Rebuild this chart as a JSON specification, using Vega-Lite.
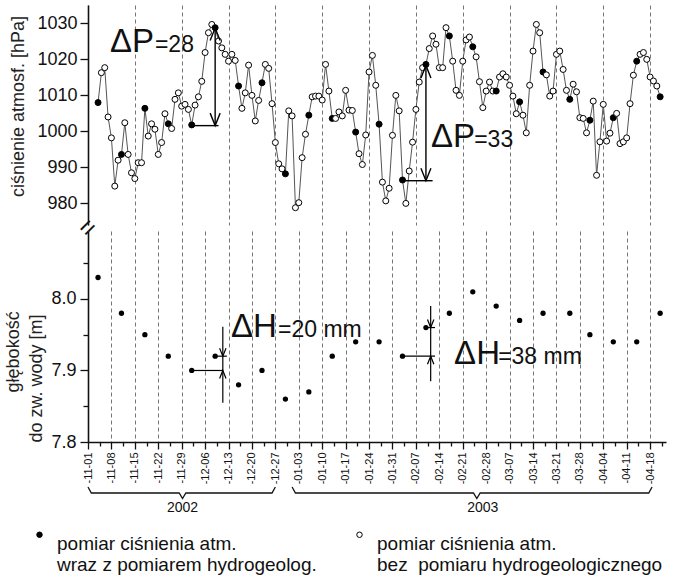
{
  "$schema": "https://vega.github.io/schema/vega-lite/v6.json",
  "config": {
    "font": "Liberation Sans",
    "view": {"stroke": null},
    "axis": {"domainColor": "#111", "domainWidth": 1.6, "tickColor": "#111", "tickWidth": 1.3, "labelColor": "#111", "labelFontSize": 18, "labelFont": "Liberation Sans", "titleColor": "#222", "titleFontSize": 18, "titleFontWeight": "normal", "titleFont": "Liberation Sans"}
  },
  "datasets": {
    "cisnienie": [
      {"dzien":"2002-11-04","p":1007.9,"typ":"z"},{"dzien":"2002-11-05","p":1016.2,"typ":"bez"},{"dzien":"2002-11-06","p":1017.6,"typ":"bez"},{"dzien":"2002-11-07","p":1003.9,"typ":"bez"},{"dzien":"2002-11-08","p":998.1,"typ":"bez"},{"dzien":"2002-11-09","p":984.7,"typ":"bez"},{"dzien":"2002-11-10","p":991.9,"typ":"bez"},
      {"dzien":"2002-11-11","p":993.5,"typ":"z"},{"dzien":"2002-11-12","p":1002.3,"typ":"bez"},{"dzien":"2002-11-13","p":993.5,"typ":"bez"},{"dzien":"2002-11-14","p":988.4,"typ":"bez"},{"dzien":"2002-11-15","p":986.8,"typ":"bez"},{"dzien":"2002-11-16","p":991.2,"typ":"bez"},{"dzien":"2002-11-17","p":991.2,"typ":"bez"},
      {"dzien":"2002-11-18","p":1006.3,"typ":"z"},{"dzien":"2002-11-19","p":998.6,"typ":"bez"},{"dzien":"2002-11-20","p":1002.0,"typ":"bez"},{"dzien":"2002-11-21","p":1000.5,"typ":"bez"},{"dzien":"2002-11-22","p":993.5,"typ":"bez"},{"dzien":"2002-11-23","p":996.8,"typ":"bez"},{"dzien":"2002-11-24","p":1004.8,"typ":"bez"},
      {"dzien":"2002-11-25","p":1002.0,"typ":"z"},{"dzien":"2002-11-26","p":1000.7,"typ":"bez"},{"dzien":"2002-11-27","p":1008.8,"typ":"bez"},{"dzien":"2002-11-28","p":1010.6,"typ":"bez"},{"dzien":"2002-11-29","p":1006.9,"typ":"bez"},{"dzien":"2002-11-30","p":1007.4,"typ":"bez"},{"dzien":"2002-12-01","p":1006.0,"typ":"bez"},
      {"dzien":"2002-12-02","p":1001.7,"typ":"z"},{"dzien":"2002-12-03","p":1007.2,"typ":"bez"},{"dzien":"2002-12-04","p":1009.5,"typ":"bez"},{"dzien":"2002-12-05","p":1013.8,"typ":"bez"},{"dzien":"2002-12-06","p":1021.8,"typ":"bez"},{"dzien":"2002-12-07","p":1027.3,"typ":"bez"},{"dzien":"2002-12-08","p":1029.6,"typ":"bez"},
      {"dzien":"2002-12-09","p":1028.7,"typ":"z"},{"dzien":"2002-12-10","p":1025.0,"typ":"bez"},{"dzien":"2002-12-11","p":1023.1,"typ":"bez"},{"dzien":"2002-12-12","p":1021.3,"typ":"bez"},{"dzien":"2002-12-13","p":1019.4,"typ":"bez"},{"dzien":"2002-12-14","p":1021.3,"typ":"bez"},{"dzien":"2002-12-15","p":1019.6,"typ":"bez"},
      {"dzien":"2002-12-16","p":1012.5,"typ":"z"},{"dzien":"2002-12-17","p":1006.3,"typ":"bez"},{"dzien":"2002-12-18","p":1010.6,"typ":"bez"},{"dzien":"2002-12-19","p":1018.3,"typ":"bez"},{"dzien":"2002-12-20","p":1009.9,"typ":"bez"},{"dzien":"2002-12-21","p":1002.8,"typ":"bez"},{"dzien":"2002-12-22","p":1008.5,"typ":"bez"},
      {"dzien":"2002-12-23","p":1013.4,"typ":"z"},{"dzien":"2002-12-24","p":1018.5,"typ":"bez"},{"dzien":"2002-12-25","p":1017.4,"typ":"bez"},{"dzien":"2002-12-26","p":1007.6,"typ":"bez"},{"dzien":"2002-12-27","p":996.8,"typ":"bez"},{"dzien":"2002-12-28","p":990.9,"typ":"bez"},{"dzien":"2002-12-29","p":989.5,"typ":"bez"},
      {"dzien":"2002-12-30","p":988.1,"typ":"z"},{"dzien":"2002-12-31","p":1005.6,"typ":"bez"},{"dzien":"2003-01-01","p":1004.2,"typ":"bez"},{"dzien":"2003-01-02","p":978.7,"typ":"bez"},{"dzien":"2003-01-03","p":980.1,"typ":"bez"},{"dzien":"2003-01-04","p":992.6,"typ":"bez"},{"dzien":"2003-01-05","p":999.1,"typ":"bez"},
      {"dzien":"2003-01-06","p":1004.4,"typ":"z"},{"dzien":"2003-01-07","p":1009.5,"typ":"bez"},{"dzien":"2003-01-08","p":1009.7,"typ":"bez"},{"dzien":"2003-01-09","p":1009.7,"typ":"bez"},{"dzien":"2003-01-10","p":1008.6,"typ":"bez"},{"dzien":"2003-01-11","p":1018.5,"typ":"bez"},{"dzien":"2003-01-12","p":1011.1,"typ":"bez"},
      {"dzien":"2003-01-13","p":1003.5,"typ":"z"},{"dzien":"2003-01-14","p":1003.5,"typ":"bez"},{"dzien":"2003-01-15","p":1005.3,"typ":"bez"},{"dzien":"2003-01-16","p":1004.2,"typ":"bez"},{"dzien":"2003-01-17","p":1011.3,"typ":"bez"},{"dzien":"2003-01-18","p":1005.8,"typ":"bez"},{"dzien":"2003-01-19","p":1005.7,"typ":"bez"},
      {"dzien":"2003-01-20","p":999.7,"typ":"z"},{"dzien":"2003-01-21","p":993.7,"typ":"bez"},{"dzien":"2003-01-22","p":990.7,"typ":"bez"},{"dzien":"2003-01-23","p":998.9,"typ":"bez"},{"dzien":"2003-01-24","p":1016.4,"typ":"bez"},{"dzien":"2003-01-25","p":1021.0,"typ":"bez"},{"dzien":"2003-01-26","p":1012.7,"typ":"bez"},
      {"dzien":"2003-01-27","p":1001.9,"typ":"z"},{"dzien":"2003-01-28","p":985.8,"typ":"bez"},{"dzien":"2003-01-29","p":980.6,"typ":"bez"},{"dzien":"2003-01-30","p":984.1,"typ":"bez"},{"dzien":"2003-01-31","p":998.8,"typ":"bez"},{"dzien":"2003-02-01","p":1009.9,"typ":"bez"},{"dzien":"2003-02-02","p":1005.6,"typ":"bez"},
      {"dzien":"2003-02-03","p":986.4,"typ":"z"},{"dzien":"2003-02-04","p":979.9,"typ":"bez"},{"dzien":"2003-02-05","p":988.9,"typ":"bez"},{"dzien":"2003-02-06","p":996.9,"typ":"bez"},{"dzien":"2003-02-07","p":1006.0,"typ":"bez"},{"dzien":"2003-02-08","p":1013.6,"typ":"bez"},{"dzien":"2003-02-09","p":1017.6,"typ":"bez"},
      {"dzien":"2003-02-10","p":1018.5,"typ":"z"},{"dzien":"2003-02-11","p":1022.9,"typ":"bez"},{"dzien":"2003-02-12","p":1026.4,"typ":"bez"},{"dzien":"2003-02-13","p":1024.1,"typ":"bez"},{"dzien":"2003-02-14","p":1017.6,"typ":"bez"},{"dzien":"2003-02-15","p":1017.6,"typ":"bez"},{"dzien":"2003-02-16","p":1028.7,"typ":"bez"},
      {"dzien":"2003-02-17","p":1026.4,"typ":"z"},{"dzien":"2003-02-18","p":1019.4,"typ":"bez"},{"dzien":"2003-02-19","p":1011.3,"typ":"bez"},{"dzien":"2003-02-20","p":1009.9,"typ":"bez"},{"dzien":"2003-02-21","p":1019.4,"typ":"bez"},{"dzien":"2003-02-22","p":1025.3,"typ":"bez"},{"dzien":"2003-02-23","p":1026.1,"typ":"bez"},
      {"dzien":"2003-02-24","p":1023.4,"typ":"z"},{"dzien":"2003-02-25","p":1020.6,"typ":"bez"},{"dzien":"2003-02-26","p":1013.7,"typ":"bez"},{"dzien":"2003-02-27","p":1006.5,"typ":"bez"},{"dzien":"2003-02-28","p":1011.1,"typ":"bez"},{"dzien":"2003-03-01","p":1013.6,"typ":"bez"},{"dzien":"2003-03-02","p":1011.1,"typ":"bez"},
      {"dzien":"2003-03-03","p":1011.1,"typ":"z"},{"dzien":"2003-03-04","p":1015.0,"typ":"bez"},{"dzien":"2003-03-05","p":1015.9,"typ":"bez"},{"dzien":"2003-03-06","p":1015.0,"typ":"bez"},{"dzien":"2003-03-07","p":1012.7,"typ":"bez"},{"dzien":"2003-03-08","p":1009.7,"typ":"bez"},{"dzien":"2003-03-09","p":1004.8,"typ":"bez"},
      {"dzien":"2003-03-10","p":1008.1,"typ":"z"},{"dzien":"2003-03-11","p":1004.4,"typ":"bez"},{"dzien":"2003-03-12","p":999.5,"typ":"bez"},{"dzien":"2003-03-13","p":1012.7,"typ":"bez"},{"dzien":"2003-03-14","p":1022.2,"typ":"bez"},{"dzien":"2003-03-15","p":1029.6,"typ":"bez"},{"dzien":"2003-03-16","p":1027.3,"typ":"bez"},
      {"dzien":"2003-03-17","p":1016.4,"typ":"z"},{"dzien":"2003-03-18","p":1015.6,"typ":"bez"},{"dzien":"2003-03-19","p":1009.7,"typ":"bez"},{"dzien":"2003-03-20","p":1011.1,"typ":"bez"},{"dzien":"2003-03-21","p":1021.3,"typ":"bez"},{"dzien":"2003-03-22","p":1022.2,"typ":"bez"},{"dzien":"2003-03-23","p":1017.1,"typ":"bez"},
      {"dzien":"2003-03-24","p":1011.3,"typ":"bez"},{"dzien":"2003-03-25","p":1008.8,"typ":"z"},{"dzien":"2003-03-26","p":1013.0,"typ":"bez"},{"dzien":"2003-03-27","p":1010.9,"typ":"bez"},{"dzien":"2003-03-28","p":1003.7,"typ":"bez"},{"dzien":"2003-03-29","p":1003.5,"typ":"bez"},{"dzien":"2003-03-30","p":999.5,"typ":"bez"},
      {"dzien":"2003-03-31","p":1003.0,"typ":"z"},{"dzien":"2003-04-01","p":1008.3,"typ":"bez"},{"dzien":"2003-04-02","p":987.7,"typ":"bez"},{"dzien":"2003-04-03","p":997.0,"typ":"bez"},{"dzien":"2003-04-04","p":1007.4,"typ":"bez"},{"dzien":"2003-04-05","p":997.2,"typ":"bez"},{"dzien":"2003-04-06","p":999.4,"typ":"bez"},
      {"dzien":"2003-04-07","p":1003.7,"typ":"z"},{"dzien":"2003-04-08","p":1004.9,"typ":"bez"},{"dzien":"2003-04-09","p":996.5,"typ":"bez"},{"dzien":"2003-04-10","p":997.0,"typ":"bez"},{"dzien":"2003-04-11","p":998.1,"typ":"bez"},{"dzien":"2003-04-12","p":1007.6,"typ":"bez"},{"dzien":"2003-04-13","p":1015.5,"typ":"bez"},
      {"dzien":"2003-04-14","p":1019.4,"typ":"z"},{"dzien":"2003-04-15","p":1021.3,"typ":"bez"},{"dzien":"2003-04-16","p":1021.8,"typ":"bez"},{"dzien":"2003-04-17","p":1019.9,"typ":"bez"},{"dzien":"2003-04-18","p":1015.0,"typ":"bez"},{"dzien":"2003-04-19","p":1013.9,"typ":"bez"},{"dzien":"2003-04-20","p":1012.5,"typ":"bez"},
      {"dzien":"2003-04-21","p":1009.5,"typ":"z"}
    ],
    "glebokosc": [
      {"dzien":"2002-11-04","h":8.03},{"dzien":"2002-11-11","h":7.98},{"dzien":"2002-11-18","h":7.95},{"dzien":"2002-11-25","h":7.92},{"dzien":"2002-12-02","h":7.90},{"dzien":"2002-12-09","h":7.92},{"dzien":"2002-12-16","h":7.88},{"dzien":"2002-12-23","h":7.90},{"dzien":"2002-12-30","h":7.86},{"dzien":"2003-01-06","h":7.87},{"dzien":"2003-01-13","h":7.92},{"dzien":"2003-01-20","h":7.94},{"dzien":"2003-01-27","h":7.94},{"dzien":"2003-02-03","h":7.92},{"dzien":"2003-02-10","h":7.96},{"dzien":"2003-02-17","h":7.98},{"dzien":"2003-02-24","h":8.01},{"dzien":"2003-03-03","h":7.99},{"dzien":"2003-03-10","h":7.97},{"dzien":"2003-03-17","h":7.98},{"dzien":"2003-03-25","h":7.98},{"dzien":"2003-03-31","h":7.95},{"dzien":"2003-04-07","h":7.94},{"dzien":"2003-04-14","h":7.94},{"dzien":"2003-04-21","h":7.98}
    ],
    "odcinki": [
      {"panel":"p","d1":"2002-12-09T00:00:00Z","d2":"2002-12-09T00:00:00Z","v1":1001.5,"v2":1028.6},
      {"panel":"p","d1":"2002-12-02T00:00:00Z","d2":"2002-12-10T00:00:00Z","v1":1001.5,"v2":1001.5},
      {"panel":"p","d1":"2003-02-10T00:00:00Z","d2":"2003-02-10T00:00:00Z","v1":986.2,"v2":1018.2},
      {"panel":"p","d1":"2003-02-03T00:00:00Z","d2":"2003-02-12T00:00:00Z","v1":986.2,"v2":986.2},
      {"panel":"h","d1":"2002-12-11T07:00:00Z","d2":"2002-12-11T07:00:00Z","v1":7.855,"v2":7.961},
      {"panel":"h","d1":"2002-12-02T00:00:00Z","d2":"2002-12-11T07:00:00Z","v1":7.90,"v2":7.90},
      {"panel":"h","d1":"2002-12-09T00:00:00Z","d2":"2002-12-12T12:00:00Z","v1":7.92,"v2":7.92},
      {"panel":"h","d1":"2003-02-11T10:00:00Z","d2":"2003-02-11T10:00:00Z","v1":7.885,"v2":7.99},
      {"panel":"h","d1":"2003-02-03T00:00:00Z","d2":"2003-02-12T17:00:00Z","v1":7.92,"v2":7.92},
      {"panel":"h","d1":"2003-02-10T00:00:00Z","d2":"2003-02-12T17:00:00Z","v1":7.96,"v2":7.96}
    ],
    "groty": [
      {"panel":"p","d":"2002-12-09T00:00:00Z","v":1028.6,"kier":"gora"},
      {"panel":"p","d":"2002-12-09T00:00:00Z","v":1001.5,"kier":"dol"},
      {"panel":"p","d":"2003-02-10T00:00:00Z","v":1018.2,"kier":"gora"},
      {"panel":"p","d":"2003-02-10T00:00:00Z","v":986.2,"kier":"dol"},
      {"panel":"h","d":"2002-12-11T07:00:00Z","v":7.92,"kier":"dol"},
      {"panel":"h","d":"2002-12-11T07:00:00Z","v":7.90,"kier":"gora"},
      {"panel":"h","d":"2003-02-11T10:00:00Z","v":7.96,"kier":"dol"},
      {"panel":"h","d":"2003-02-11T10:00:00Z","v":7.92,"kier":"gora"}
    ],
    "napisy": [
      {"panel":"p","t":"ΔP","d":"2002-11-07T14:00:00Z","v":1021.9,"rozmiar":"duzy"},
      {"panel":"p","t":"=28","d":"2002-11-21T00:00:00Z","v":1021.9,"rozmiar":"maly"},
      {"panel":"p","t":"ΔP","d":"2003-02-11T12:00:00Z","v":995.6,"rozmiar":"duzy"},
      {"panel":"p","t":"=33","d":"2003-02-24T10:00:00Z","v":995.6,"rozmiar":"maly"},
      {"panel":"h","t":"ΔH","d":"2002-12-13T18:00:00Z","v":7.947,"rozmiar":"duzy"},
      {"panel":"h","t":"=20 mm","d":"2002-12-27T19:00:00Z","v":7.947,"rozmiar":"maly"},
      {"panel":"h","t":"ΔH","d":"2003-02-18T10:00:00Z","v":7.909,"rozmiar":"duzy"},
      {"panel":"h","t":"=38 mm","d":"2003-03-03T14:00:00Z","v":7.909,"rozmiar":"maly"}
    ],
    "klamry": [
      {"rok":"2002","d":"2002-11-01T00:00:00Z","h":7.7371},
      {"rok":"2002","d":"2002-11-02T00:00:00Z","h":7.7287},
      {"rok":"2002","d":"2002-11-28T06:00:00Z","h":7.7287},
      {"rok":"2002","d":"2002-11-29T06:00:00Z","h":7.7210},
      {"rok":"2002","d":"2002-11-30T06:00:00Z","h":7.7287},
      {"rok":"2002","d":"2002-12-26T00:00:00Z","h":7.7287},
      {"rok":"2002","d":"2002-12-27T00:00:00Z","h":7.7371},
      {"rok":"2003","d":"2003-01-01T00:00:00Z","h":7.7371},
      {"rok":"2003","d":"2003-01-02T00:00:00Z","h":7.7287},
      {"rok":"2003","d":"2003-02-24T05:00:00Z","h":7.7287},
      {"rok":"2003","d":"2003-02-25T05:00:00Z","h":7.7210},
      {"rok":"2003","d":"2003-02-26T05:00:00Z","h":7.7287},
      {"rok":"2003","d":"2003-04-17T14:00:00Z","h":7.7287},
      {"rok":"2003","d":"2003-04-18T14:00:00Z","h":7.7371}
    ],
    "lata": [
      {"rok":"2002","d":"2002-11-29T06:00:00Z"},
      {"rok":"2003","d":"2003-02-27T00:00:00Z"}
    ]
  },
  "spacing": 6,
  "bounds": "flush",
  "resolve": {"scale": {"x": "independent", "y": "independent"}},
  "vconcat": [
    {
      "width": 578,
      "height": 220,
      "layer": [
        {
          "data": {"name": "cisnienie"},
          "mark": {"type": "line", "color": "#555", "strokeWidth": 1},
          "encoding": {
            "x": {"field": "dzien", "type": "temporal", "scale": {"type": "utc", "domain": [1036108800000, 1051034400000]},
              "axis": {"title": null, "labels": false, "ticks": false, "domain": false, "grid": true, "gridDash": [4, 3], "gridColor": "#666", "gridWidth": 0.9,
                "values": [1036108800000, 1036713600000, 1037318400000, 1037923200000, 1038528000000, 1039132800000, 1039737600000, 1040342400000, 1040947200000, 1041552000000, 1042156800000, 1042761600000, 1043366400000, 1043971200000, 1044576000000, 1045180800000, 1045785600000, 1046390400000, 1046995200000, 1047600000000, 1048204800000, 1048809600000, 1049414400000, 1050019200000, 1050624000000]}},
            "y": {"field": "p", "type": "quantitative", "scale": {"domain": [973.9, 1035], "nice": false, "zero": false},
              "axis": {"title": "ciśnienie atmosf. [hPa]", "titleY": 101, "titlePadding": 9, "labelPadding": 3, "format": "d", "grid": false,
                "values": [980, 985, 990, 995, 1000, 1005, 1010, 1015, 1020, 1025, 1030, 1035],
                "labelExpr": "datum.value % 10 == 0 && datum.value <= 1030 ? datum.label : ''",
                "tickSize": {"condition": {"test": "datum.value % 10 == 0", "value": 8}, "value": 5}}}
          }
        },
        {
          "data": {"name": "cisnienie"},
          "mark": {"type": "point", "shape": "circle", "size": 36, "stroke": "black", "strokeWidth": 1, "opacity": 1},
          "encoding": {
            "x": {"field": "dzien", "type": "temporal", "scale": {"type": "utc", "domain": [1036108800000, 1051034400000]}},
            "y": {"field": "p", "type": "quantitative", "scale": {"domain": [973.9, 1035], "nice": false, "zero": false}},
            "fill": {"field": "typ", "type": "nominal", "scale": {"domain": ["z", "bez"], "range": ["black", "white"]},
              "legend": {"orient": "none", "legendX": -58, "legendY": 520, "direction": "horizontal", "columns": 2, "title": null,
                "labelExpr": "datum.value == 'z' ? ['pomiar ciśnienia atm.', 'wraz z pomiarem hydrogeolog.'] : ['pomiar ciśnienia atm.', 'bez\u00a0 pomiaru hydrogeologicznego']",
                "labelFontSize": 19, "labelFont": "Liberation Sans", "labelColor": "#111", "labelBaseline": "top", "labelLimit": 600, "labelOffset": 8,
                "symbolType": "circle", "symbolSize": 30, "symbolStrokeColor": "black", "symbolStrokeWidth": 1, "columnPadding": 33}}
          }
        },
        {
          "data": {"name": "odcinki"},
          "transform": [{"filter": "datum.panel == 'p'"}],
          "mark": {"type": "rule", "color": "black", "strokeWidth": 1.4},
          "encoding": {
            "x": {"field": "d1", "type": "temporal", "scale": {"type": "utc", "domain": [1036108800000, 1051034400000]}},
            "x2": {"field": "d2"},
            "y": {"field": "v1", "type": "quantitative", "scale": {"domain": [973.9, 1035], "nice": false, "zero": false}},
            "y2": {"field": "v2"}
          }
        },
        {
          "data": {"name": "groty"},
          "transform": [{"filter": "datum.panel == 'p'"}],
          "mark": {"type": "point", "filled": false, "stroke": "black", "strokeWidth": 1.4, "size": 156, "opacity": 1},
          "encoding": {
            "x": {"field": "d", "type": "temporal", "scale": {"type": "utc", "domain": [1036108800000, 1051034400000]}},
            "y": {"field": "v", "type": "quantitative", "scale": {"domain": [973.9, 1035], "nice": false, "zero": false}},
            "shape": {"field": "kier", "type": "nominal", "scale": {"domain": ["gora", "dol"], "range": ["M-0.8,2L0,0L0.8,2", "M-0.8,-2L0,0L0.8,-2"]}, "legend": null}
          }
        },
        {
          "data": {"name": "napisy"},
          "transform": [{"filter": "datum.panel == 'p'"}],
          "mark": {"type": "text", "align": "left", "baseline": "alphabetic", "color": "#111"},
          "encoding": {
            "x": {"field": "d", "type": "temporal", "scale": {"type": "utc", "domain": [1036108800000, 1051034400000]}},
            "y": {"field": "v", "type": "quantitative", "scale": {"domain": [973.9, 1035], "nice": false, "zero": false}},
            "text": {"field": "t"},
            "size": {"field": "rozmiar", "type": "ordinal", "scale": {"domain": ["duzy", "maly"], "range": [33, 23]}, "legend": null}
          }
        },
        {
          "data": {"values": [{}]},
          "mark": {"type": "text", "text": "=", "angle": 315, "fontSize": 26, "align": "center", "baseline": "middle", "color": "#111"},
          "encoding": {
            "x": {"datum": 1036108800000, "type": "temporal", "scale": {"type": "utc", "domain": [1036108800000, 1051034400000]}},
            "y": {"datum": 973.1, "type": "quantitative", "scale": {"domain": [973.9, 1035], "nice": false, "zero": false}}
          }
        }
      ]
    },
    {
      "width": 578,
      "height": 211,
      "resolve": {"axis": {"x": "independent"}},
      "layer": [
        {
          "data": {"name": "glebokosc"},
          "mark": {"type": "circle", "size": 28, "color": "black", "opacity": 1},
          "encoding": {
            "x": {"field": "dzien", "type": "temporal", "scale": {"type": "utc", "domain": [1036108800000, 1051034400000]},
              "axis": {"orient": "bottom", "title": null, "labelAngle": 270, "labelFontSize": 11, "labelPadding": 3, "labelOverlap": false, "labelFlush": false,
                "grid": true, "gridDash": [4, 3], "gridColor": "#666", "gridWidth": 0.9, "tickSize": 7,
                "labelExpr": "utcFormat(datum.value, '-%m-%d')",
                "values": [1036108800000, 1036713600000, 1037318400000, 1037923200000, 1038528000000, 1039132800000, 1039737600000, 1040342400000, 1040947200000, 1041552000000, 1042156800000, 1042761600000, 1043366400000, 1043971200000, 1044576000000, 1045180800000, 1045785600000, 1046390400000, 1046995200000, 1047600000000, 1048204800000, 1048809600000, 1049414400000, 1050019200000, 1050624000000]}},
            "y": {"field": "h", "type": "quantitative", "scale": {"domain": [7.8, 8.095], "nice": false, "zero": false},
              "axis": {"title": "do zw. wody [m]", "titleAnchor": "start", "titlePadding": 5, "labelPadding": 4, "format": ".1f", "grid": false,
                "values": [7.8, 7.85, 7.9, 7.95, 8.0, 8.05],
                "labelExpr": "round(datum.value * 100) % 10 == 0 ? datum.label : ''",
                "tickSize": {"condition": {"test": "round(datum.value * 100) % 10 == 0", "value": 8}, "value": 5}}}
          }
        },
        {
          "data": {"name": "odcinki"},
          "transform": [{"filter": "datum.panel == 'h'"}],
          "mark": {"type": "rule", "color": "black", "strokeWidth": 1.2},
          "encoding": {
            "x": {"field": "d1", "type": "temporal", "scale": {"type": "utc", "domain": [1036108800000, 1051034400000]}, "axis": null},
            "x2": {"field": "d2"},
            "y": {"field": "v1", "type": "quantitative", "scale": {"domain": [7.8, 8.095], "nice": false, "zero": false}},
            "y2": {"field": "v2"}
          }
        },
        {
          "data": {"name": "groty"},
          "transform": [{"filter": "datum.panel == 'h'"}],
          "mark": {"type": "point", "filled": false, "stroke": "black", "strokeWidth": 1.2, "size": 64, "opacity": 1},
          "encoding": {
            "x": {"field": "d", "type": "temporal", "scale": {"type": "utc", "domain": [1036108800000, 1051034400000]}, "axis": null},
            "y": {"field": "v", "type": "quantitative", "scale": {"domain": [7.8, 8.095], "nice": false, "zero": false}},
            "shape": {"field": "kier", "type": "nominal", "scale": {"domain": ["gora", "dol"], "range": ["M-0.8,2L0,0L0.8,2", "M-0.8,-2L0,0L0.8,-2"]}, "legend": null}
          }
        },
        {
          "data": {"name": "napisy"},
          "transform": [{"filter": "datum.panel == 'h'"}],
          "mark": {"type": "text", "align": "left", "baseline": "alphabetic", "color": "#111"},
          "encoding": {
            "x": {"field": "d", "type": "temporal", "scale": {"type": "utc", "domain": [1036108800000, 1051034400000]}, "axis": null},
            "y": {"field": "v", "type": "quantitative", "scale": {"domain": [7.8, 8.095], "nice": false, "zero": false}},
            "text": {"field": "t"},
            "size": {"field": "rozmiar", "type": "ordinal", "scale": {"domain": ["duzy", "maly"], "range": [33, 23]}, "legend": null}
          }
        },
        {
          "data": {"name": "klamry"},
          "mark": {"type": "line", "color": "#111", "strokeWidth": 1.3},
          "encoding": {
            "x": {"field": "d", "type": "temporal", "scale": {"type": "utc", "domain": [1036108800000, 1051034400000]},
              "axis": {"orient": "bottom", "title": null, "labels": false, "grid": false, "domain": false, "tickSize": 4,
                "values": [1036411200000, 1037016000000, 1037620800000, 1038225600000, 1038830400000, 1039435200000, 1040040000000, 1040644800000, 1041249600000, 1041854400000, 1042459200000, 1043064000000, 1043668800000, 1044273600000, 1044878400000, 1045483200000, 1046088000000, 1046692800000, 1047297600000, 1047902400000, 1048507200000, 1049112000000, 1049716800000, 1050321600000, 1050926400000]}},
            "y": {"field": "h", "type": "quantitative", "scale": {"domain": [7.8, 8.095], "nice": false, "zero": false}},
            "detail": {"field": "rok"}
          }
        },
        {
          "data": {"name": "lata"},
          "mark": {"type": "text", "fontSize": 14, "align": "center", "baseline": "middle", "color": "#111"},
          "encoding": {
            "x": {"field": "d", "type": "temporal", "scale": {"type": "utc", "domain": [1036108800000, 1051034400000]}, "axis": null},
            "y": {"datum": 7.7077, "type": "quantitative", "scale": {"domain": [7.8, 8.095], "nice": false, "zero": false}},
            "text": {"field": "rok"}
          }
        },
        {
          "data": {"values": [{}]},
          "mark": {"type": "text", "text": "głębokość", "angle": 270, "fontSize": 18, "align": "center", "baseline": "middle", "color": "#222"},
          "encoding": {
            "x": {"datum": 1034208000000, "type": "temporal", "scale": {"type": "utc", "domain": [1036108800000, 1051034400000]}, "axis": null},
            "y": {"datum": 7.926, "type": "quantitative", "scale": {"domain": [7.8, 8.095], "nice": false, "zero": false}}
          }
        }
      ]
    }
  ]
}
